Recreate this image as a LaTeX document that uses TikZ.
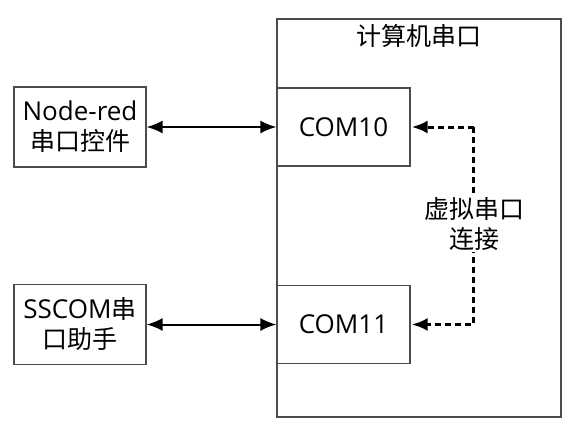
\documentclass[tikz,border=0pt]{standalone}
\usepackage{fontspec}
\newfontfamily\cjk{Noto Sans CJK SC}
\newfontfamily\lat{Open Sans}
\usepackage{tikz}
\usetikzlibrary{
    calc,
    arrows.meta,
    positioning
}

\begin{document}
\begin{tikzpicture}[
        x=1pt, y=-1pt,
        every node/.style={font=\cjk\fontsize{25}{30}\selectfont, align=center},
        port box/.style={draw=black!70, line width=1.2pt, minimum width=133pt, minimum height=78pt, inner sep=0pt},
        tool box/.style={draw=black!70, line width=1.2pt, minimum width=132pt, minimum height=80pt, inner sep=0pt},
        serial link/.style={line width=2pt, {Latex[length=16pt,width=13pt]}-{Latex[length=16pt,width=13pt]}},
        virtual link/.style={line width=3pt, dash pattern=on 6pt off 4pt, -{Latex[length=16pt,width=13pt]}},
    ]
    \useasboundingbox (0,0) rectangle (567,424);

    % computer with its two ports
    \node[draw=black!70, line width=1.2pt, minimum width=284pt, minimum height=398pt, inner sep=0pt] (pc) at (419,218) {};
    \node[below=2pt of pc.north] (pctitle) {计算机串口};
    \node[port box] (com10) at (343.5,127) {\lat\fontsize{26}{30}\selectfont COM10};
    \node[port box] (com11) at (343.5,324.5) {\lat\fontsize{26}{30}\selectfont COM11};

    % tools on the left
    \node[tool box] (nodered) at (80,127) {{\lat\fontsize{26}{30}\selectfont Node-red}\\串口控件};
    \node[tool box] (sscom) at (80,324.5) {{\lat\fontsize{26}{30}\selectfont SSCOM}串\\口助手};

    \draw[serial link] (nodered) -- (com10);
    \draw[serial link] (sscom) -- (com11);

    % virtual connection between the ports
    \coordinate (vtop) at ($(com10.east)+(63,0)$);
    \draw[virtual link] (vtop) -- ([xshift=1pt]com10.east);
    \draw[virtual link] (vtop) |- ([xshift=1pt]com11.east);
    \node[fill=white, inner sep=1pt] (vlabel) at (474,224) {虚拟串口\\连接};
\end{tikzpicture}
\end{document}
